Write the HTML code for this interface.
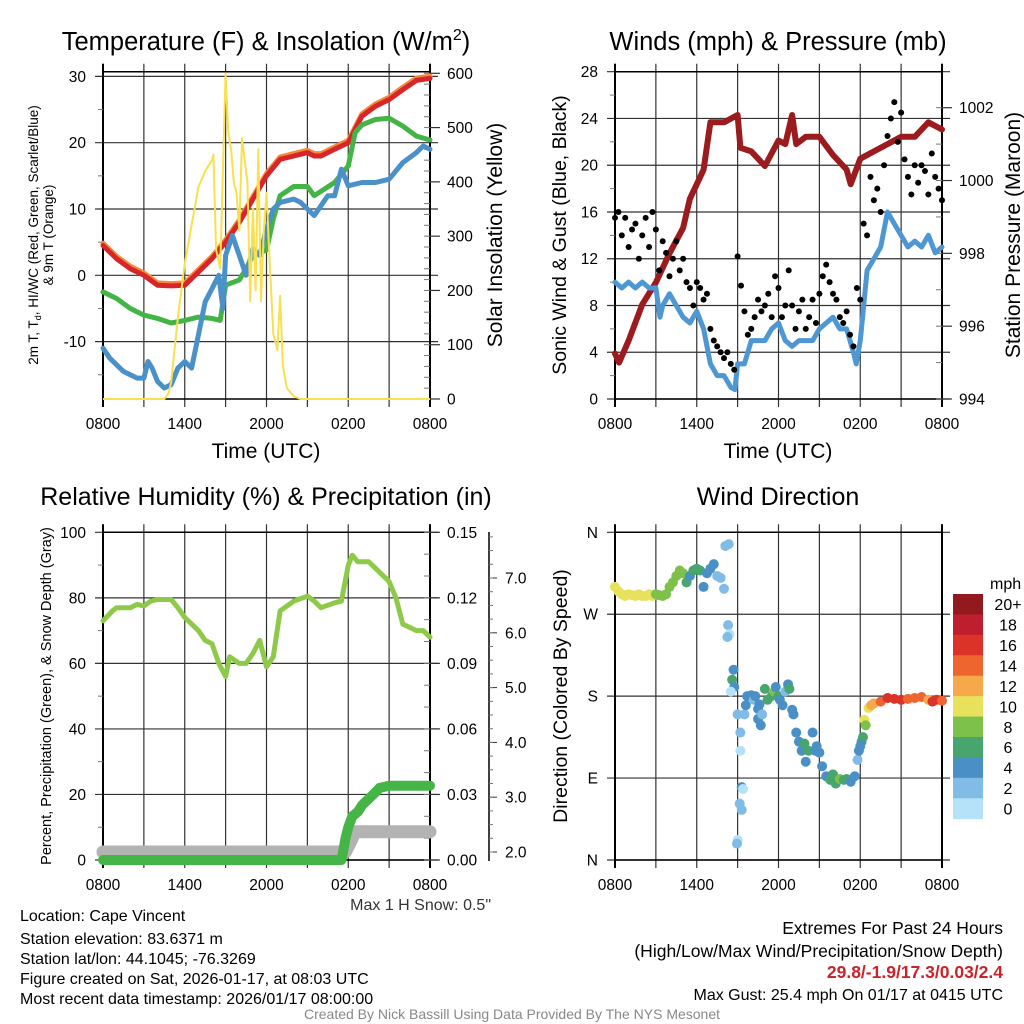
<!DOCTYPE html>
<html><head><meta charset="utf-8">
<style>
body{margin:0;background:#fff;}
svg{display:block;font-family:"Liberation Sans",Arial,sans-serif;}
</style></head>
<body>
<svg id="chart" width="1024" height="1024" viewBox="0 0 1024 1024" xmlns="http://www.w3.org/2000/svg">
<rect width="1024" height="1024" fill="#fff"/>
<g id="g1"></g>
<g id="g2"></g>
<g id="g3"></g>
<g id="g4"></g>

<text x="266" y="50" font-size="25.5" text-anchor="middle">Temperature (F) &amp; Insolation (W/m<tspan font-size="16" dy="-10">2</tspan><tspan dy="10">)</tspan></text>
<text x="778" y="50" font-size="25.5" text-anchor="middle">Winds (mph) &amp; Pressure (mb)</text>
<text x="266" y="505" font-size="25" text-anchor="middle">Relative Humidity (%) &amp; Precipitation (in)</text>
<text x="778" y="505" font-size="25" text-anchor="middle">Wind Direction</text>

<text x="266" y="458" font-size="21" text-anchor="middle">Time (UTC)</text>
<text x="778" y="458" font-size="21" text-anchor="middle">Time (UTC)</text>

<text transform="translate(38,235) rotate(-90)" font-size="13.5" text-anchor="middle">2m T, T<tspan font-size="9" dy="3">d</tspan><tspan dy="-3">, HI/WC (Red, Green, Scarlet/Blue)</tspan></text>
<text transform="translate(53,235) rotate(-90)" font-size="13.5" text-anchor="middle">&amp; 9m T (Orange)</text>
<text transform="translate(502,235) rotate(-90)" font-size="21" text-anchor="middle">Solar Insolation (Yellow)</text>
<text transform="translate(566,235) rotate(-90)" font-size="19.5" text-anchor="middle">Sonic Wind &amp; Gust (Blue, Black)</text>
<text transform="translate(1020,235) rotate(-90)" font-size="21" text-anchor="middle">Station Pressure (Maroon)</text>
<text transform="translate(51,696) rotate(-90)" font-size="14.5" text-anchor="middle">Percent, Precipitation (Green), &amp; Snow Depth (Gray)</text>
<text transform="translate(567,696) rotate(-90)" font-size="19.5" text-anchor="middle">Direction (Colored By Speed)</text>

<text x="491" y="910" font-size="16" fill="#333" text-anchor="end">Max 1 H Snow: 0.5"</text>
<g font-size="16">
<text x="20" y="921">Location: Cape Vincent</text>
<text x="20" y="944">Station elevation: 83.6371 m</text>
<text x="20" y="964">Station lat/lon: 44.1045; -76.3269</text>
<text x="20" y="984">Figure created on Sat, 2026-01-17, at 08:03 UTC</text>
<text x="20" y="1004">Most recent data timestamp: 2026/01/17 08:00:00</text>
</g>
<g text-anchor="end">
<text x="1003" y="934" font-size="17.5">Extremes For Past 24 Hours</text>
<text x="1003" y="957" font-size="17.5">(High/Low/Max Wind/Precipitation/Snow Depth)</text>
<text x="1003" y="978" font-size="17.5" font-weight="bold" fill="#cc2229">29.8/-1.9/17.3/0.03/2.4</text>
<text x="1003" y="1000" font-size="16">Max Gust: 25.4 mph On 01/17 at 0415 UTC</text>
</g>
<text x="512" y="1019" font-size="14" fill="#888" text-anchor="middle">Created By Nick Bassill Using Data Provided By The NYS Mesonet</text>
</svg>
<script>
// ---------- data ----------
const timeLabels = ["0800","1400","2000","0200","0800"];
const tempHours = [0,1,2,3,4,5,6,7,8,9,10,11,12,13,14,15,15.5,16,17,18,18.5,19,20,21,22,23,24];
const tempRed   = [4.5,2.5,1,0,-1.5,-1.6,-1.5,0.5,2.5,5,8,11.5,15,17.5,18,18.5,18,18,19,20,22,24,25.5,26.5,28,29.4,29.7];
const dewHours = [0,1,2,3,4,5,6,7,8,8.6,9,10,10.5,11,12,12.5,13,14,15,15.5,17,18,18.5,19,20,21,22,23,24];
const dewGreen = [-2.5,-3.5,-5,-6,-6.5,-7.2,-6.8,-6.3,-6.5,-6.8,-1.5,-0.7,1,3,3.8,8.5,12,13.4,13.4,12,14,16.5,21.5,22.7,23.5,23.7,22.5,21,20.4];
const wcHours = [0,0.5,1,1.5,2,2.5,3,3.3,3.6,4,4.5,5,5.5,6,6.5,7,7.5,8,8.5,8.8,9,9.5,10,10.5,11,11.5,12,12.5,13,14,14.5,15,15.5,16,16.5,17,17.5,18,19,20,21,22,23,23.5,24];
const wcBlue = [-11,-12.5,-13.5,-14.5,-15,-15.5,-15.5,-13,-14,-16,-17,-16.5,-14,-13,-14,-9,-4,-2,0,-5,3,6,3,0,4,3,7,10,11,11.5,11,10,9,10.5,12,12,16,13.5,14,14,14.5,17,18.5,19.5,19];
const solHours = [0,4.5,4.8,5,5.5,6,6.5,7,7.5,8,8.1,8.3,8.6,9,9.2,9.4,9.6,9.8,10,10.2,10.4,10.6,10.8,11,11.2,11.4,11.6,11.8,12,12.2,12.5,12.8,13,13.2,13.5,14,14.5,24];
const solar = [0,0,10,30,150,250,320,390,420,440,450,275,240,600,490,460,400,380,310,480,440,400,180,350,200,460,180,310,380,270,120,90,190,60,20,5,0,0];

const windHours = [0,0.5,1,1.5,2,2.5,3,3.3,3.5,4,4.5,5,5.5,6,6.5,7,7.5,8,8.5,8.8,9,9.5,10,10.5,11,11.5,12,12.5,13,13.5,14,14.5,15,15.5,16,16.5,17,17.5,17.7,18,18.5,19,19.5,20,20.5,21,21.5,22,22.5,23,23.5,24];
const windBlue = [10,9.5,10,9.5,10,9.5,9.5,7,8,9,8,7,6.5,7.5,6,3,2,2,1,0.8,3,3,5,5,5,6,6.5,5,4.5,5,5,5,6,6.5,7,6,6,4,3,5,11,12,13,16,15,14,13,13.5,13,14,12.5,13];
const gusts = [15.5,16,14,15.5,13,14.5,15,12,14,15.5,13,16,14.5,11,13.5,12.5,10.5,12,13.5,11,12,10,9.5,8,10,9.5,8.5,9,6,5,4.5,4,3.5,4,3,2.5,12.2,9.7,7.5,5.5,6,7,8.5,7.5,8,9,7,10.5,9.5,7,8,11,8,6,7.5,8.5,6,7,8.5,6.5,9,10.5,11.5,10,9,8.5,7,6.5,7.5,5.5,4.5,9.5,8.5,15,14,19,17,18,16,20,22.5,24,25.4,22,24.5,20.5,19,17.5,20,18.5,20,19.5,17.5,21,19,18,17];
const presHours = [0,0.3,1,2,3,4,5,5.5,6,6.5,7,8,9,9.2,10,11,12,12.5,13,13.3,14,15,16,17,17.3,18,19,20,21,22,23,24];
const pressure = [995.25,995.0,995.6,996.6,997.2,998.0,998.7,999.5,999.9,1000.3,1001.6,1001.6,1001.8,1000.9,1000.8,1000.4,1001.1,1001.0,1001.8,1001.0,1001.2,1001.2,1000.7,1000.3,999.9,1000.6,1000.8,1001.0,1001.2,1001.2,1001.6,1001.4];

const rhHours = [0,0.7,1,2,2.5,3,3.5,4,5,5.5,6,7,7.5,8,8.5,9,9.3,10,10.5,11,11.5,12,12.5,13,14,15,15.5,16,17,17.5,18,18.3,18.7,19.5,20,21,21.5,22,23,23.5,24];
const rh = [73,76,77,77,78,77.5,79,79.5,79.5,77,74,70,67,66,60,56,62,60,60,63,67,59,62,76,79,80.5,79,77,78.5,79,90,93,91,91,89,85,80,72,70,70,68];
const precipHours = [0,17.5,17.6,17.8,18,18.3,18.7,19,19.5,20,20.3,21,24];
const precip = [0,0,0.003,0.01,0.015,0.02,0.022,0.025,0.028,0.031,0.033,0.034,0.034];
const snowHours = [0,17.8,18.2,18.5,24];
const snowDepth = [2.0,2.0,2.2,2.37,2.37];

const dirHours = [0,0.25,0.5,0.75,1,1.25,1.5,1.75,2,2.25,2.5,2.75,3,3.25,3.5,3.75,4,4.25,4.5,4.75,5,5.25,5.5,5.75,6,6.25,6.5,6.75,7,7.25,7.5,7.75,8,8.1,8.35,8.3,8.4,8.25,8.7,8.6,8.75,8.5,9,9.2,9.3,9.4,9.15,9.3,9,8.95,9.2,9.5,9.7,9.6,9.95,10,10.2,10.5,10.6,10.5,10.7,10.8,10.3,11,11.2,11.5,11.7,11.8,12,12.1,12.3,12.5,12.7,12.8,13,13.1,13.3,13.5,13.7,13.9,14,14.2,14.5,14.7,14.8,15,15.2,15.5,15.8,16,16.2,16.5,16.8,17,17.3,17.6,17.8,17.9,18,18.1,18.2,18.3,18.4,18.6,18.8,19,19.5,20,20.5,21,21.5,22,22.5,23,23.3,23.6,24];
const dirDeg = [300,295,292,290,292,291,290,292,290,290,292,290,292,291,290,292,300,305,312,318,315,305,312,318,320,318,300,315,320,325,312,310,298,345,347,258,248,245,209,198,190,185,160,120,80,78,62,55,22,18,140,160,180,170,180,181,176,166,171,155,148,160,180,188,176,180,185,190,180,176,170,185,193,188,165,160,140,130,120,128,108,120,140,120,125,118,103,92,88,94,84,89,88,89,86,92,110,120,125,130,135,154,148,167,170,172,174,178,177,176,177,178,179,176,174,176,175];
const dirSpeed = [10,10,10.5,10,10,11,10,10,10,10,11,10,8,8,8,9,8,8,9,9,8,6,5,6,7,6,4,5,5,4,3,3,2.5,2.5,2.5,2.5,1.5,2.5,4,7,4,1,3,1,4,1,3,3,1,2,3,3,4,5,4,4,3,4,5,4,4,3,4,6,6,7,8,5,6,4,5,3,4,6,4,4,4,4,4,7,4,6,5,4,4,4,4,4,6,6,6,8,6,6,5,5,3,4,4,5,6,11,8,11,13,13,14,16,17,16,15,15,14,12,16,16,15];
const speedColors = ["#b5e2f8","#80bce5","#4a90c6","#48a56e","#7dc14b","#e7e15c","#f6a94b","#ef6530","#dc3328","#bf1e2e","#921a1e"];
const speedLabels = ["0","2","4","6","8","10","12","14","16","18","20+"];

// ---------- helpers ----------
const NS = "http://www.w3.org/2000/svg";
function mk(parent, tag, attrs){ const e=document.createElementNS(NS,tag); for(const k in attrs) e.setAttribute(k,attrs[k]); parent.appendChild(e); return e; }
const W = 327;
function xAxis(x0){ return h => x0 + h*W/24; }
function linY(v0,v1,y0,y1){ return v => y0 + (v-v0)*(y1-y0)/(v1-v0); }
function pathD(hs, vs, sx, sy){ return hs.map((h,i)=>(i?"L":"M")+sx(h).toFixed(1)+" "+sy(vs[i]).toFixed(1)).join(" "); }

function frame(g, x0, y0, y1, yTicks, yLabFn, sy, opts){
  const x1 = x0 + W;
  for(let h=0; h<=24; h+=3){
    const x = x0 + h*W/24;
    const l = mk(g,"line",{x1:x,x2:x,y1:y0-8,y2:y1+8,stroke:"#333","stroke-width":1.2});
    
    
  }
  yTicks.forEach(v=>{
    const y = sy(v);
    const l = mk(g,"line",{x1:x0-8,x2:x1+8,y1:y,y2:y,stroke:"#333","stroke-width":1.2});
    
    
    const t = mk(g,"text",{x:x0-17,y:y+5.5,"font-size":15.5,"text-anchor":"end"});
    
    
    t.textContent = yLabFn(v);
  });
  mk(g,"line",{x1:x0,x2:x0,y1:y0-8,y2:y1+8,stroke:"#000","stroke-width":2});
  mk(g,"line",{x1:x1,x2:x1,y1:y0-8,y2:y1+8,stroke:"#000","stroke-width":2});
  mk(g,"line",{x1:x0,x2:x1,y1:y0,y2:y0,stroke:"#000","stroke-width":1.5});
  mk(g,"line",{x1:x0,x2:x1,y1:y1,y2:y1,stroke:"#000","stroke-width":1.5});
  timeLabels.forEach((s,i)=>{
    const t = mk(g,"text",{x:x0+i*6*W/24,y:y1+30,"font-size":15.5,"text-anchor":"middle"});
    
    
    t.textContent = s;
  });
}
function rightAxis(g, x, ticks, sy, fmt, minorStep, lo, hi, labX){
  ticks.forEach(v=>{
    const y=sy(v);
    mk(g,"line",{x1:x,x2:x+10,y1:y,y2:y,stroke:"#333","stroke-width":1.2});
    const t = mk(g,"text",{x:labX,y:y+5.5,"font-size":15.5});
    
    
    t.textContent = fmt(v);
  });
  for(let v=lo; v<=hi+1e-9; v+=minorStep){
    const y=sy(v);
    mk(g,"line",{x1:x-6,x2:x,y1:y,y2:y,stroke:"#777","stroke-width":1});
  }
}

// ---------- panel 1 ----------
(function(){
  const g = document.getElementById("g1");
  const x0=103, sx=xAxis(x0);
  const sy = linY(0,10,275.3,209);
  const syS = linY(0,600,399,73.3);
  frame(g,x0,71.7,399,[-10,0,10,20,30],v=>String(v),sy,{});
  for(let v=-15; v<=25; v+=10){ mk(g,"line",{x1:x0-5,x2:x0,y1:sy(v),y2:sy(v),stroke:"#777"}); }
  rightAxis(g,x0+W,[0,100,200,300,400,500,600],syS,v=>String(v),20,0,600,x0+W+17);
  const o = mk(g,"path",{d:pathD(tempHours,tempRed.map(v=>v+0.35),sx,sy),fill:"none",stroke:"#f58a3a","stroke-width":5,"stroke-linejoin":"round","stroke-linecap":"round"});
  
  
  const r = mk(g,"path",{d:pathD(tempHours,tempRed,sx,sy),fill:"none",stroke:"#d7262a","stroke-width":5,"stroke-linejoin":"round","stroke-linecap":"round"});
  
  
  const d = mk(g,"path",{d:pathD(dewHours,dewGreen,sx,sy),fill:"none",stroke:"#44b447","stroke-width":5,"stroke-linejoin":"round","stroke-linecap":"round"});
  
  
  const b = mk(g,"path",{d:pathD(wcHours,wcBlue,sx,sy),fill:"none",stroke:"#4a90c9","stroke-width":5,"stroke-linejoin":"round","stroke-linecap":"round"});
  
  
  const s = mk(g,"path",{d:pathD(solHours,solar,sx,syS),fill:"none",stroke:"#f8e04e","stroke-width":2,"stroke-linejoin":"round"});
  
  
})();

// ---------- panel 2 ----------
(function(){
  const g = document.getElementById("g2");
  const x0=615, sx=xAxis(x0);
  const sy = linY(0,28,399,71.7);
  const syP = linY(994,1002,399,107.7);
  frame(g,x0,71.7,399,[0,4,8,12,16,20,24,28],v=>String(v),sy,{});
  for(let v=2; v<=26; v+=4){ mk(g,"line",{x1:x0-5,x2:x0,y1:sy(v),y2:sy(v),stroke:"#777"}); }
  rightAxis(g,x0+W,[994,996,998,1000,1002],syP,v=>String(v),1,994,1002.9,x0+W+17);
  const p = mk(g,"path",{d:pathD(presHours,pressure,sx,syP),fill:"none",stroke:"#9b1b1e","stroke-width":6,"stroke-linejoin":"round","stroke-linecap":"round"});
  
  
  const w = mk(g,"path",{d:pathD(windHours,windBlue,sx,sy),fill:"none",stroke:"#4f97d3","stroke-width":5,"stroke-linejoin":"round","stroke-linecap":"round"});
  
  
  gusts.forEach((v,i)=>{
    const c = mk(g,"circle",{cx:sx(i*0.25),cy:sy(v),r:3,fill:"#000"});
    
    
  });
})();

// ---------- panel 3 ----------
(function(){
  const g = document.getElementById("g3");
  const x0=103, sx=xAxis(x0);
  const sy = linY(0,100,860,532.3);
  const syR = linY(0,0.15,860,532.3);
  const syS = linY(2,7,852,578);
  frame(g,x0,532.3,860,[0,20,40,60,80,100],v=>String(v),sy,{});
  for(let v=10; v<=90; v+=20){ mk(g,"line",{x1:x0-5,x2:x0,y1:sy(v),y2:sy(v),stroke:"#777"}); }
  rightAxis(g,x0+W,[0,0.03,0.06,0.09,0.12,0.15],syR,v=>v.toFixed(2),0.01,0,0.15,x0+W+17);
  mk(g,"line",{x1:489,x2:489,y1:532,y2:861,stroke:"#000","stroke-width":1.5});
  [2,3,4,5,6,7].forEach(v=>{
    mk(g,"line",{x1:489,x2:497,y1:syS(v),y2:syS(v),stroke:"#333"});
    const t=mk(g,"text",{x:505,y:syS(v)+5.5,"font-size":15.5});
    
    
    t.textContent=v.toFixed(1);
  });
  for(let v=1.5; v<=8; v+=0.25){ const y=syS(v); if(y>=532&&y<=861) mk(g,"line",{x1:489,x2:493,y1:y,y2:y,stroke:"#777"}); }
  const sn = mk(g,"path",{d:pathD(snowHours,snowDepth,sx,syS),fill:"none",stroke:"#b3b3b3","stroke-width":13,"stroke-linejoin":"round","stroke-linecap":"round"});
  
  
  const pr = mk(g,"path",{d:pathD(precipHours,precip,sx,syR),fill:"none",stroke:"#45b548","stroke-width":10,"stroke-linejoin":"round","stroke-linecap":"round"});
  
  
  const h = mk(g,"path",{d:pathD(rhHours,rh,sx,sy),fill:"none",stroke:"#8ec94a","stroke-width":5,"stroke-linejoin":"round","stroke-linecap":"round"});
  
  
})();

// ---------- panel 4 ----------
(function(){
  const g = document.getElementById("g4");
  const x0=615, sx=xAxis(x0);
  const sy = linY(0,360,860,532.3);
  const labs = {0:"N",90:"E",180:"S",270:"W",360:"N"};
  frame(g,x0,532.3,860,[0,90,180,270,360],v=>labs[v],sy,{});
  dirHours.forEach((h,i)=>{
    const bin = Math.min(10, Math.max(0, Math.floor(dirSpeed[i]/2)));
    const c = mk(g,"circle",{cx:sx(h),cy:sy(dirDeg[i]),r:5,fill:speedColors[bin]});
    
    
  });
  const t0 = mk(g,"text",{x:990,y:589,"font-size":16});
  
  
  t0.textContent="mph";
  const top=594, bh=224.7/11;
  for(let k=0;k<11;k++){
    const idx = 10-k;
    const rc = mk(g,"rect",{x:953,y:top+k*bh,width:30,height:bh+0.5,fill:speedColors[idx]});
    
    
    const t = mk(g,"text",{x:1008,y:top+k*bh+bh/2+6,"font-size":16,"text-anchor":"middle"});
    
    
    t.textContent = speedLabels[idx];
  }
})();
</script>
</body></html>
